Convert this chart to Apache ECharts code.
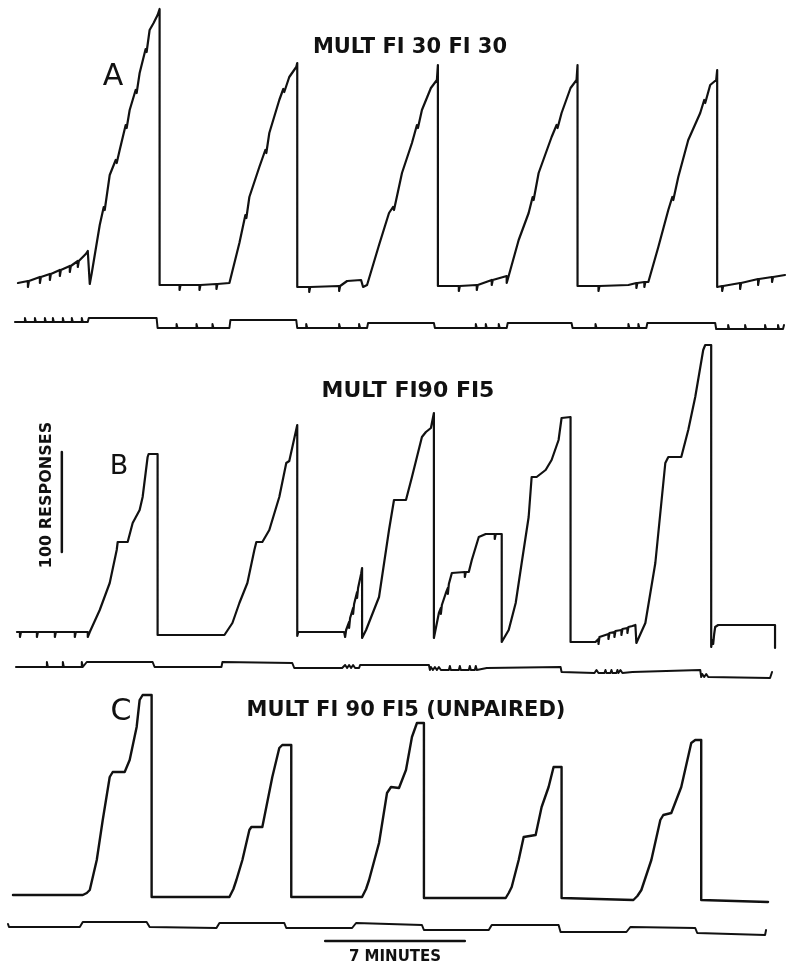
<!DOCTYPE html>
<html>
<head>
<meta charset="utf-8">
<script src="https://cdn.jsdelivr.net/npm/echarts@6/dist/echarts.min.js"></script>
<style>
  html, body { margin: 0; padding: 0; background: #fff; }
  #chart { width: 787px; height: 969px; }
</style>
</head>
<body>
<div id="chart"></div>
<script>
// cumulative records, x = minutes, y = responses above each panel's baseline
var recordA = [
  [0.4,2],[0.9,4],[0.9,-2],[0.95,4],[1.5,8],[1.5,2],[1.55,8],[2.0,11],[2.0,5],[2.05,11],
  [2.5,15],[2.5,9],[2.55,15],[3.0,19],[3.0,13],[3.05,19],[3.4,24],[3.4,18],[3.45,24],
  [3.8,31],[3.9,34],[4.0,1],[4.1,12],[4.5,60],[4.7,78],[4.75,75],[5.0,110],[5.3,125],
  [5.35,122],[5.5,135],[5.8,160],[5.85,157],[6.0,175],[6.3,195],[6.35,192],[6.5,212],
  [6.8,236],[6.85,233],[7.0,255],[7.2,262],[7.4,270],[7.5,276],[7.5,0],
  [8.5,0],[8.5,-5],[8.55,0],[9.5,0],[9.5,-5],[9.55,0],[10.35,1],[10.35,-4],[10.4,1],
  [11.0,2],[11.1,3],[11.5,42],[11.8,70],[11.85,67],[12.0,88],[12.5,118],[12.8,135],
  [12.85,132],[13.0,152],[13.5,185],[13.7,196],[13.75,193],[14.0,208],[14.35,218],[14.4,222],[14.4,-2],
  [15.0,-2],[15.0,-7],[15.05,-2],[16.5,-1],[16.5,-6],[16.55,-1],[16.9,4],[17.6,5],[17.7,-2],
  [17.9,0],[18.5,40],[19.0,72],[19.2,78],[19.25,75],[19.65,112],[20.15,142],[20.4,160],
  [20.45,157],[20.65,175],[21.1,197],[21.4,205],[21.45,220],[21.45,-1],
  [22.5,-1],[22.5,-6],[22.55,-1],[23.4,0],[23.4,-5],[23.45,0],[24.15,5],[24.15,0],[24.2,5],
  [24.9,9],[24.9,2],[25.0,2],[25.5,45],[26.0,72],[26.2,88],[26.25,85],[26.5,112],
  [27.15,148],[27.4,160],[27.45,157],[27.65,172],[28.1,197],[28.4,205],[28.45,220],[28.45,-1],
  [29.5,-1],[29.5,-6],[29.55,-1],[31.0,0],[31.4,2],[31.4,-3],[31.45,2],[31.8,3],[31.8,-2],
  [31.85,3],[32.0,3],[32.5,38],[33.0,75],[33.2,88],[33.25,85],[33.5,108],[34.0,145],
  [34.6,172],[34.8,185],[34.85,182],[35.1,200],[35.4,205],[35.45,215],[35.45,-2],
  [35.7,-1],[35.7,-6],[35.75,-1],[36.6,2],[36.6,-4],[36.65,2],[37.5,6],[37.5,0],[37.55,6],
  [38.2,8],[38.2,3],[38.25,8],[38.85,10]
];
var eventA = [
  [0.25,-37],[0.75,-37],[0.75,-33],[0.8,-37],[1.25,-37],[1.25,-33],[1.3,-37],[1.75,-37],
  [1.75,-33],[1.8,-37],[2.15,-37],[2.15,-33],[2.2,-37],[2.65,-37],[2.65,-33],[2.7,-37],
  [3.1,-37],[3.1,-33],[3.15,-37],[3.6,-37],[3.6,-33],[3.65,-37],[3.9,-37],[3.95,-33],
  [7.35,-33],[7.4,-43],[8.35,-43],[8.35,-39],[8.4,-43],[9.35,-43],[9.35,-39],[9.4,-43],
  [10.15,-43],[10.15,-39],[10.2,-43],[11.0,-43],[11.05,-35],[14.35,-35],[14.4,-43],
  [14.85,-43],[14.85,-39],[14.9,-43],[16.5,-43],[16.5,-39],[16.55,-43],[17.5,-43],
  [17.5,-39],[17.55,-43],[17.9,-43],[17.95,-38],[21.25,-38],[21.3,-43],[23.35,-43],
  [23.35,-39],[23.4,-43],[23.85,-43],[23.85,-39],[23.9,-43],[24.5,-43],[24.5,-39],
  [24.55,-43],[24.9,-43],[24.95,-38],[28.15,-38],[28.2,-43],[29.35,-43],[29.35,-39],
  [29.4,-43],[31.0,-43],[31.0,-39],[31.05,-43],[31.5,-43],[31.5,-39],[31.55,-43],
  [31.9,-43],[31.95,-38],[35.35,-38],[35.4,-44],[36.0,-44],[36.0,-40],[36.05,-44],
  [36.85,-44],[36.85,-40],[36.9,-44],[37.85,-44],[37.85,-40],[37.9,-44],[38.5,-44],
  [38.5,-40],[38.55,-44],[38.75,-44],[38.8,-40]
];

var recordB = [
  [0.35,0],[0.5,0],[0.5,-5],[0.55,0],[1.35,0],[1.35,-5],[1.4,0],[2.25,0],[2.25,-5],[2.3,0],
  [3.25,0],[3.25,-5],[3.3,0],[3.9,0],[3.9,-5],[4.0,0],[4.5,22],[5.0,49],[5.35,82],[5.4,90],
  [5.9,90],[6.15,109],[6.5,122],[6.65,135],[6.8,159],[6.9,175],[6.95,178],[7.4,178],[7.4,-3],
  [10.75,-3],[10.85,-1],[11.15,9],[11.5,29],[11.9,49],[12.25,82],[12.35,90],[12.65,90],
  [13.0,102],[13.5,135],[13.85,169],[14.0,171],[14.4,207],[14.4,-4],
  [14.45,0],[16.75,0],[16.8,-5],[16.85,2],[17.0,10],[17.0,4],[17.05,14],[17.2,24],[17.2,18],
  [17.25,28],[17.4,40],[17.4,34],[17.45,44],[17.6,58],[17.65,64],[17.65,-6],[17.85,2],
  [18.5,35],[19.0,102],[19.25,132],[19.85,132],[20.15,155],[20.65,195],[20.85,200],
  [21.1,204],[21.25,219],[21.25,-6],
  [21.3,-6],[21.5,19],[21.6,24],[21.6,18],[21.65,27],[21.85,39],[21.95,44],[21.95,38],
  [22.0,48],[22.15,59],[22.8,60],[22.8,55],[22.85,60],[23.0,60],[23.15,72],[23.5,95],
  [23.85,98],[24.3,98],[24.3,93],[24.35,98],[24.65,98],[24.65,-10],[25.0,2],[25.35,29],
  [25.65,69],[26.0,115],[26.15,155],[26.4,155],[26.85,162],[27.15,172],[27.5,192],
  [27.65,214],[28.1,215],[28.1,-10],
  [29.35,-10],[29.5,-7],[29.5,-12],[29.55,-5],[29.65,-3],[30.0,-2],[30.0,-7],[30.05,-1],
  [30.3,0],[30.3,-5],[30.35,1],[30.65,2],[30.65,-3],[30.7,3],[30.95,4],[30.95,-1],[31.0,5],
  [31.2,6],[31.35,7],[31.4,-11],[31.85,9],[32.35,69],[32.85,169],[33.0,175],[33.65,175],
  [34.0,202],[34.35,235],[34.75,282],[34.85,287],[35.15,287],[35.15,-15],
  [35.2,-8],[35.25,-12],[35.3,-2],[35.35,5],[35.5,7],[38.35,7],[38.35,-16]
];
var eventB = [
  [0.3,-35],[1.85,-35],[1.85,-30],[1.9,-35],[2.65,-35],[2.65,-30],[2.7,-35],[3.6,-35],
  [3.6,-30],[3.65,-35],[3.75,-35],[3.85,-30],[7.15,-30],[7.25,-35],[10.6,-35],[10.65,-30],
  [14.15,-31],[14.25,-36],[16.65,-36],[16.8,-33],[16.9,-36],[17.0,-33],[17.1,-36],
  [17.2,-33],[17.3,-36],[17.5,-36],[17.55,-33],[21.0,-33],[21.05,-38],[21.1,-35],
  [21.2,-38],[21.3,-35],[21.4,-38],[21.5,-35],[21.6,-38],[22.0,-38],[22.05,-34],
  [22.1,-38],[22.5,-38],[22.55,-34],[22.6,-38],[23.0,-38],[23.05,-34],[23.1,-38],
  [23.3,-38],[23.35,-34],[23.4,-38],[23.9,-36],[24.0,-35],[27.6,-35],[27.65,-40],
  [29.3,-41],[29.4,-38],[29.5,-41],[29.8,-41],[29.85,-38],[29.9,-41],[30.1,-41],
  [30.15,-38],[30.2,-41],[30.4,-41],[30.45,-38],[30.5,-41],[30.6,-38],[30.7,-41],
  [31.2,-40],[31.3,-38],[34.6,-38],[34.65,-45],[34.7,-42],[34.8,-45],[34.9,-42],
  [35.0,-45],[38.1,-46],[38.2,-40]
];

var recordC = [
  [0.15,0],[3.65,0],[3.85,2],[4.0,5],[4.35,35],[4.65,75],[5.0,118],[5.15,123],[5.75,123],
  [6.0,135],[6.35,168],[6.5,195],[6.65,200],[7.1,200],[7.1,-2],
  [11.0,-2],[11.2,6],[11.35,15],[11.65,35],[12.0,65],[12.1,68],[12.65,68],[12.85,88],
  [13.15,118],[13.5,147],[13.65,150],[14.1,150],[14.1,-2],
  [17.65,-2],[17.85,6],[18.0,15],[18.5,52],[18.9,102],[19.1,108],[19.5,107],[19.85,125],
  [20.15,158],[20.4,172],[20.75,172],[20.75,-3],
  [24.85,-3],[25.0,2],[25.15,8],[25.5,35],[25.75,58],[26.35,60],[26.65,88],[27.0,108],
  [27.25,128],[27.65,128],[27.65,-3],
  [31.25,-5],[31.45,-1],[31.65,5],[32.15,35],[32.6,75],[32.75,80],[33.15,82],[33.65,108],
  [34.15,152],[34.35,155],[34.65,155],[34.65,-5],[38.0,-7]
];
var eventC = [
  [-0.1,-29],[-0.05,-32],[3.5,-32],[3.65,-27],[6.85,-27],[7.0,-32],[10.35,-33],[10.5,-28],
  [13.75,-28],[13.85,-33],[17.15,-33],[17.35,-28],[20.65,-30],[20.75,-35],[24.0,-35],
  [24.15,-30],[27.5,-30],[27.6,-37],[30.9,-37],[31.1,-32],[34.35,-33],[34.45,-38],
  [37.85,-40],[37.9,-35]
];

// calibration bars
var minutesBar = [[15.8,-46],[22.8,-46]];
var responsesBar = [[2.6,80],[2.6,180]];

var titles = ['MULT FI 30 FI 30', 'MULT FI90 FI5', 'MULT FI 90 FI5 (UNPAIRED)'];
var panelLetters = ['A', 'B', 'C'];

var ink = '#111';
var chart = echarts.init(document.getElementById('chart'));

function axisX(i) {
  return { type: 'value', gridIndex: i, min: -0.5, max: 38.95, show: false };
}
function axisY(i, min, max) {
  return { type: 'value', gridIndex: i, min: min, max: max, show: false };
}
function trace(data, i, w) {
  return {
    type: 'line', xAxisIndex: i, yAxisIndex: i, data: data,
    showSymbol: false, clip: false, silent: true,
    lineStyle: { color: ink, width: w, join: 'round', cap: 'round' }
  };
}
function label(text, x, y, size, weight, rot) {
  return {
    type: 'text', x: x, y: y, rotation: rot || 0,
    style: {
      text: text, fill: ink, align: 'center', verticalAlign: 'middle',
      font: (weight || 'bold') + ' ' + size + 'px "DejaVu Sans"'
    }
  };
}

chart.setOption({
  animation: false,
  backgroundColor: '#fff',
  grid: [
    { left: 0, top: 0, width: 789, height: 340 },
    { left: 0, top: 340, width: 789, height: 340 },
    { left: 0, top: 680, width: 789, height: 289 }
  ],
  xAxis: [axisX(0), axisX(1), axisX(2)],
  yAxis: [axisY(0, -55, 285), axisY(1, -48, 292), axisY(2, -74, 215)],
  series: [
    trace(recordA, 0, 2.2), trace(eventA, 0, 2),
    trace(recordB, 1, 2.2), trace(eventB, 1, 2),
    trace(recordC, 2, 2.4), trace(eventC, 2, 2),
    trace(minutesBar, 2, 2.5), trace(responsesBar, 1, 2.5)
  ],
  graphic: [
    label(titles[0], 410, 48, 21),
    label(titles[1], 408, 391, 22),
    label(titles[2], 406, 711, 21),
    label(panelLetters[0], 113, 77, 30, 'normal'),
    label(panelLetters[1], 119, 467, 27, 'normal'),
    label(panelLetters[2], 121, 712, 30, 'normal'),
    label('100 RESPONSES', 47, 495, 16, 'bold', Math.PI / 2),
    label('7 MINUTES', 395, 957, 15)
  ]
});
</script>
</body>
</html>
